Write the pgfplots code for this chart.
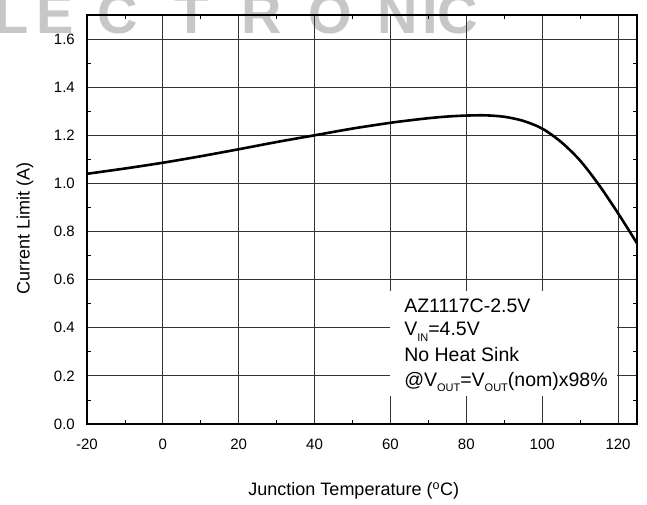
\documentclass[border=0pt]{standalone}
\usepackage{pgfplots}
\pgfplotsset{compat=1.18}
\usepackage{fontspec}
\setmainfont{Liberation Sans}
\newcommand{\sub}[1]{\raisebox{-0.5ex}{\fontsize{11}{11}\selectfont #1}}

\begin{document}
\begin{tikzpicture}
% page = 647 x 504, axis box from (87,15) to (637,424) in pixels
\path[use as bounding box] (-87pt,-80pt) rectangle (560pt,424pt);

% faded watermark at the top
\begin{scope}[shift={(-87pt,-80pt)}]
\foreach \c/\x in {L/12,E/55,C/118,T/192,R/262,O/330,N/398,I/430,C/458}
  \node[anchor=base, text=black!22, inner sep=0pt,
        font=\bfseries\fontsize{56}{56}\selectfont] at (\x pt,470pt) {\c};
\end{scope}

\begin{axis}[
    at={(0,0)}, anchor=south west,
    scale only axis,
    width=550pt, height=409pt,
    xmin=-20, xmax=125,
    ymin=0, ymax=1.7,
    xtick={-20,0,20,40,60,80,100,120},
    xticklabels={-20,0,20,40,60,80,100,120},
    ytick={0,0.2,0.4,0.6,0.8,1.0,1.2,1.4,1.6},
    yticklabels={0.0,0.2,0.4,0.6,0.8,1.0,1.2,1.4,1.6},
    minor x tick num=1,
    minor y tick num=1,
    tick align=inside,
    major tick length=0pt,
    minor tick length=4pt,
    grid=major,
    major grid style={line width=0.8pt, black!80},
    axis line style={line width=1.5pt, black},
    every minor tick/.append style={line width=0.8pt, black},
    tick label style={font=\fontsize{15}{15}\selectfont, inner sep=0pt},
    xticklabel style={anchor=north, yshift=-15pt},
    yticklabel style={anchor=east, xshift=-12pt},
    xlabel={Junction Temperature (\textsuperscript{o}C)},
    ylabel={Current Limit (A)},
    label style={font=\fontsize{18}{18}\selectfont, inner sep=0pt},
    xlabel style={at={(axis description cs:0.485,-0.164)}, anchor=center},
    ylabel style={at={(axis description cs:-0.113,0.477)}, anchor=center},
]

\addplot[black, line width=2.6pt, smooth] coordinates {
    (-20,1.040) (-10,1.062) (0,1.086) (10,1.113) (20,1.142) (30,1.172)
    (40,1.200) (50,1.228) (60,1.252) (65,1.262) (70,1.271) (75,1.278)
    (80,1.282) (85,1.283) (90,1.277) (95,1.260) (100,1.228) (105,1.172)
    (110,1.095) (115,0.993) (120,0.876) (125,0.751)
};

% annotation box
\fill[white] (axis cs:60,0.116) rectangle (axis cs:119.7,0.553);
\begin{scope}[every node/.style={anchor=base west, inner sep=0pt,
      font=\fontsize{19.5}{19.5}\selectfont}]
\node at (axis cs:63.6,0.4655) {AZ1117C-2.5V};
\node at (axis cs:63.6,0.366) {V\sub{IN}=4.5V};
\node at (axis cs:63.6,0.259) {No Heat Sink};
\node at (axis cs:63.6,0.155) {@V\sub{OUT}=V\sub{OUT}(nom)x98\%};
\end{scope}
\end{axis}
\end{tikzpicture}
\end{document}
